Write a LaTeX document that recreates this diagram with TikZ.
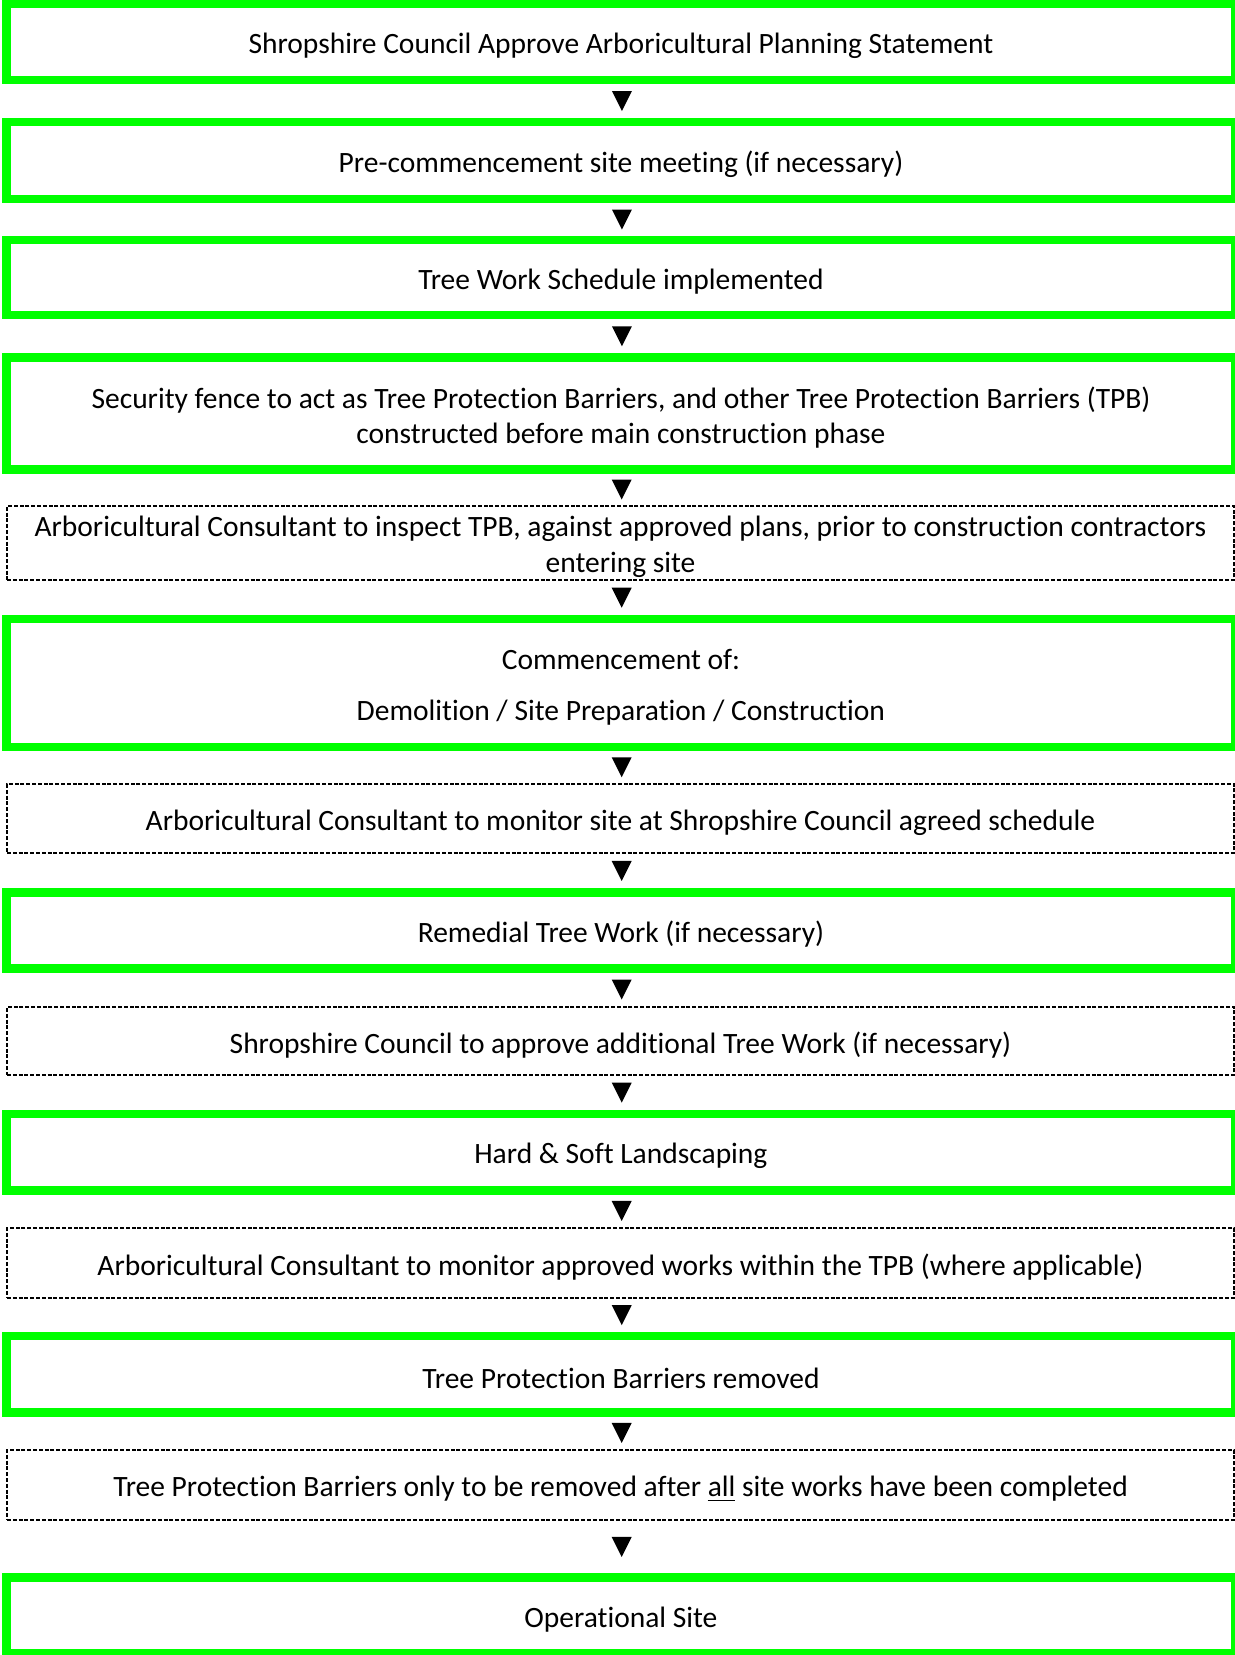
\documentclass[tikz,border=0pt]{standalone}
\usepackage{fontspec}
\setmainfont[Ligatures={NoCommon}]{Carlito}
\usetikzlibrary{calc}
\definecolor{boxgreen}{RGB}{0,255,0}
\tikzset{
  txt/.style={align=center, inner sep=0pt, rectangle, text=black,
    font=\fontsize{14.75pt}{17.9pt}\selectfont},
  boxbase/.style={rectangle, inner sep=0pt},
  greenbox/.style={boxbase, draw=boxgreen, line width=4.25pt, minimum width=614.4pt},
  dashbox/.style={boxbase, draw=black, line width=0.65pt, dash pattern=on 2pt off 0.9pt, minimum width=613.5pt},
  lbl/.style={label={[txt,yshift=-2pt]center:{#1}}},
  tri/.style={fill=black}
}
\begin{document}
\begin{tikzpicture}[x=0.5pt,y=-0.5pt]
\useasboundingbox (0,0) rectangle (1235,1655);
\node[greenbox, minimum height=38pt, lbl={Shropshire Council Approve Arboricultural Planning Statement}] (b1) at (620.9,42) {};
\node[greenbox, minimum height=38.5pt, lbl={Pre-commencement site meeting (if necessary)}] (b2) at (620.9,160.5) {};
\node[greenbox, minimum height=37.5pt, lbl={Tree Work Schedule implemented}] (b3) at (620.9,277.5) {};
\node[greenbox, minimum height=56pt, lbl={Security fence to act as Tree Protection Barriers, and other Tree Protection Barriers (TPB)\\constructed before main construction phase}] (b4) at (620.9,413.5) {};
\node[dashbox, minimum height=37pt, lbl={Arboricultural Consultant to inspect TPB, against approved plans, prior to construction contractors\\entering site}] (b5) at (620.5,543) {};
\node[greenbox, minimum height=64pt, lbl={Commencement of:\\[7.5pt]Demolition / Site Preparation / Construction}] (b6) at (620.9,683) {};
\node[dashbox, minimum height=34.5pt, lbl={Arboricultural Consultant to monitor site at Shropshire Council agreed schedule}] (b7) at (620.5,818.5) {};
\node[greenbox, minimum height=38pt, lbl={Remedial Tree Work (if necessary)}] (b8) at (620.9,930.5) {};
\node[dashbox, minimum height=34pt, lbl={Shropshire Council to approve additional Tree Work (if necessary)}] (b9) at (620.5,1041) {};
\node[greenbox, minimum height=38.25pt, lbl={Hard \& Soft Landscaping}] (b10) at (620.9,1152) {};
\node[dashbox, minimum height=35pt, lbl={Arboricultural Consultant to monitor approved works within the TPB (where applicable)}] (b11) at (620.5,1263) {};
\node[greenbox, minimum height=38.25pt, lbl={Tree Protection Barriers removed}] (b12) at (620.9,1374) {};
\node[dashbox, minimum height=35pt, lbl={Tree Protection Barriers only to be removed after \underline{all} site works have been completed}] (b13) at (620.5,1485) {};
\node[greenbox, minimum height=38pt, lbl={Operational Site}] (b14) at (620.9,1615.5) {};
\foreach \a/\b in {b1/b2,b2/b3,b3/b4,b4/b5,b5/b6,b6/b7,b7/b8,b8/b9,b9/b10,b10/b11,b11/b12,b12/b13,b13/b14}{
  \path (\a.south) -- (\b.north) coordinate[midway] (m\a);
  \fill[tri] ($(m\a)+(-9,-10)$) -- ++(20,0) -- ++(-10,20) -- cycle;
}
\end{tikzpicture}
\end{document}
